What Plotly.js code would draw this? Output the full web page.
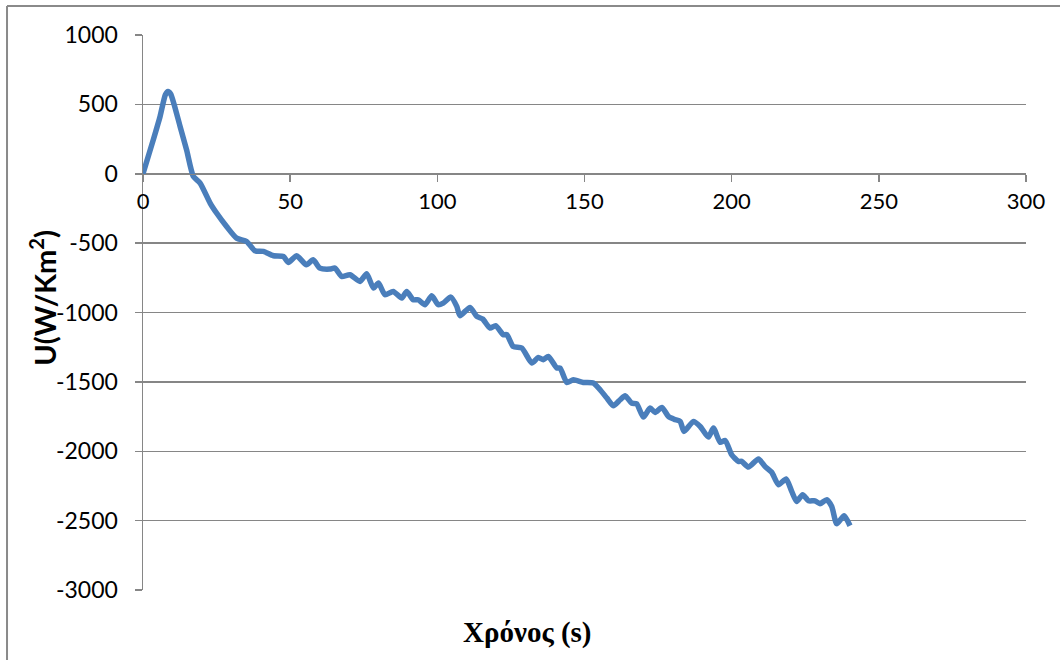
<!DOCTYPE html>
<html>
<head>
<meta charset="utf-8">
<script src="https://cdn.plot.ly/plotly-3.0.1.min.js"></script>
<style>html,body{margin:0;padding:0;background:#fff;}#chart{width:1060px;height:660px;}</style>
</head>
<body>
<div id="chart"></div>
<script>
const time = [0, 3.5, 5.8, 7.6, 8.5, 9.4, 10.5, 12.6, 14.8, 17.1, 19.4, 22.8, 25, 28.4, 31.8, 35.2, 38, 40.9, 44.3, 47.7, 49.4, 52.2,
  55.5, 57.8, 60.1, 63.5, 65.2, 67.5, 70.3, 73.7, 76, 78.3, 80, 82.2, 85, 87.9, 89.6, 91.8, 93.5, 95.8, 98.1, 100.3,
  102, 104.6, 106.6, 107.7, 111.1, 113.4, 115.4, 117.9, 119.8, 122.4, 123.6, 125.8, 128.7, 132.1, 134.3, 136, 137.7, 140.6, 141.7, 144,
  146.2, 149.6, 153, 155.3, 157.6, 159.8, 162.1, 163.8, 166, 167.7, 170, 172.3, 174, 176.3, 178.5, 180.5, 182.5, 183.8, 187, 189.3,
  192.1, 193.8, 196.1, 197.8, 200, 202.3, 203.4, 205.7, 209.1, 211.3, 213.6, 215.9, 218.5, 220.4, 222.1, 224.1, 226.1, 228.3, 230, 232.3,
  234, 235.7, 238.2, 240.2];
const energyU = [0, 245, 413, 570, 593, 575, 505, 341, 173, -19, -67, -211, -283, -380, -464, -488, -555, -560, -591, -596, -639, -591,
  -656, -620, -680, -687, -680, -740, -728, -776, -721, -824, -788, -872, -848, -896, -848, -908, -908, -944, -879, -944,
  -932, -889, -956, -1023, -963, -1028, -1047, -1112, -1095, -1160, -1160, -1245, -1256, -1364, -1324, -1340, -1317, -1400, -1400, -1504,
  -1485, -1504, -1508, -1557, -1617, -1672, -1629, -1600, -1653, -1658, -1754, -1689, -1720, -1684, -1749, -1770, -1785, -1857, -1785, -1821,
  -1898, -1833, -1936, -1922, -2025, -2073, -2073, -2114, -2056, -2109, -2152, -2241, -2200, -2289, -2362, -2313, -2357, -2357, -2378, -2349,
  -2398, -2522, -2465, -2537];
const yTickValues = [1000, 500, 0, -500, -1000, -1500, -2000, -2500, -3000];
const yTickLabels = ["1000", "500", "0", "-500", "-1000", "-1500", "-2000", "-2500", "-3000"];
const xTickValues = [0, 50, 100, 150, 200, 250, 300];
const xTickLabels = ["0", "50", "100", "150", "200", "250", "300"];
const xTitle = "Χρόνος (s)";
const yTitle = "U(W/Km<sup>2</sup>)";

const sansFamily = "Lato, Carlito, 'Open Sans', sans-serif";
const tickFont = {family: sansFamily, size: 23, color: "#000"};
const axisColor = "#868686";

const trace = {
  x: time, y: energyU, type: "scatter", mode: "lines",
  line: {color: "#4A7EBB", width: 5.5, shape: "spline", smoothing: 0.6},
  hoverinfo: "skip"
};

const layout = {
  width: 1060, height: 660,
  margin: {l: 143, r: 34, t: 35, b: 70},
  paper_bgcolor: "#fff", plot_bgcolor: "#fff",
  showlegend: false,
  xaxis: {
    range: [0, 300], tickmode: "array", tickvals: xTickValues, ticktext: xTickLabels,
    anchor: "free", position: 0.75,
    showgrid: false, zeroline: false,
    showline: true, linecolor: axisColor, linewidth: 1.5,
    ticks: "outside", ticklen: 7, tickcolor: axisColor, tickwidth: 1.5,
    tickfont: {family: sansFamily, size: 22, color: "#000"}
  },
  yaxis: {
    range: [-3000, 1000], tickmode: "array", tickvals: yTickValues, ticktext: yTickLabels,
    showgrid: true, gridcolor: axisColor, gridwidth: 1.5,
    zeroline: false,
    showline: true, linecolor: axisColor, linewidth: 1.5,
    ticks: "outside", ticklen: 7, tickcolor: axisColor, tickwidth: 1.5,
    tickfont: tickFont, ticklabelstandoff: 12
  },
  annotations: [
    {text: "<b>" + yTitle + "</b>", xref: "paper", yref: "paper", x: -0.114, y: 0.527,
     textangle: -90, showarrow: false, xanchor: "center", yanchor: "middle",
     font: {family: sansFamily, size: 29, color: "#000"}},
    {text: "<b>" + xTitle + "</b>", xref: "paper", yref: "paper", x: 0.436, y: -0.0757,
     showarrow: false, xanchor: "center", yanchor: "middle",
     font: {family: "'Liberation Serif', 'Times New Roman', serif", size: 29, color: "#000"}}
  ],
  shapes: [
    {type: "line", xref: "paper", yref: "paper", x0: -0.154, x1: 1.06, y0: 1.0523, y1: 1.0523,
     line: {color: "#8a8a8a", width: 2}},
    {type: "line", xref: "paper", yref: "paper", x0: -0.154, x1: -0.154, y0: 1.0523, y1: -0.15,
     line: {color: "#8a8a8a", width: 2}}
  ]
};

Plotly.newPlot("chart", [trace], layout, {displayModeBar: false, staticPlot: true});
</script>
</body>
</html>
